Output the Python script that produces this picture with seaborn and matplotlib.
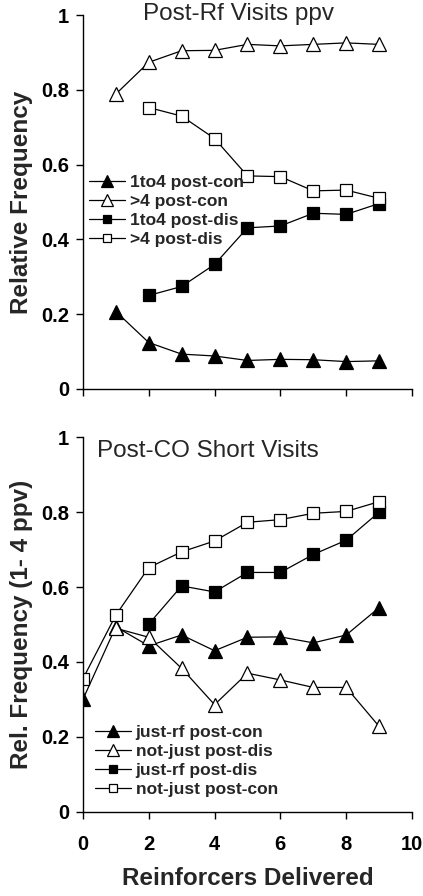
import numpy as np
import pandas as pd
import seaborn as sns
import matplotlib.pyplot as plt
from matplotlib.ticker import FuncFormatter

# top panel: Post-Rf visits
top_labels = ['1to4 post-con', '>4 post-con', '1to4 post-dis', '>4 post-dis']
top_x = [list(range(1, 10)), list(range(1, 10)), list(range(2, 10)), list(range(2, 10))]
top_y = [
    [0.207, 0.124, 0.093, 0.088, 0.076, 0.079, 0.078, 0.073, 0.075],
    [0.789, 0.874, 0.905, 0.906, 0.922, 0.918, 0.922, 0.926, 0.922],
    [0.250, 0.274, 0.333, 0.431, 0.436, 0.470, 0.467, 0.496],
    [0.753, 0.730, 0.670, 0.570, 0.568, 0.530, 0.532, 0.510],
]

# bottom panel: Post-CO short visits
bot_labels = ['just-rf post-con', 'not-just post-dis', 'just-rf post-dis', 'not-just post-con']
bot_x = [list(range(0, 10)), list(range(1, 10)), list(range(2, 10)), list(range(0, 10))]
bot_y = [
    [0.300, 0.494, 0.443, 0.472, 0.430, 0.466, 0.467, 0.451, 0.472, 0.545],
    [0.490, 0.466, 0.383, 0.286, 0.370, 0.352, 0.332, 0.332, 0.228],
    [0.501, 0.603, 0.587, 0.639, 0.639, 0.687, 0.725, 0.800],
    [0.355, 0.525, 0.652, 0.694, 0.723, 0.773, 0.780, 0.797, 0.802, 0.828],
]

markers = ['^', '^', 's', 's']
faces = ['black', 'white', 'black', 'white']
msizes = [10.5, 10.5, 8, 8]

sns.set_style('ticks')
plt.rcParams['font.family'] = ['Liberation Sans', 'DejaVu Sans']

fig = plt.figure(figsize=(4.23, 8.96), dpi=100)
ax1 = fig.add_axes([0.196, 0.566, 0.778, 0.417])
ax2 = fig.add_axes([0.196, 0.094, 0.778, 0.418])


def draw(ax, xs, ys, labels):
    for i in range(4):
        df = pd.DataFrame({'x': xs[i], 'y': ys[i]})
        sns.lineplot(data=df, x='x', y='y', ax=ax, color='black', lw=0.9,
                     marker=markers[i], markersize=msizes[i],
                     markerfacecolor=faces[i], markeredgecolor='black',
                     markeredgewidth=0.9, label=labels[i])
    ax.set_xlim(0, 10)
    ax.set_ylim(0, 1)
    ax.set_xticks(range(0, 11, 2))
    ax.set_yticks(np.arange(0, 1.01, 0.2))
    ax.yaxis.set_major_formatter(FuncFormatter(
        lambda v, p: '0' if abs(v) < 1e-9 else ('1' if abs(v - 1) < 1e-9 else f'{v:.1f}')))
    for s in ['top', 'right']:
        ax.spines[s].set_visible(False)
    for s in ['left', 'bottom']:
        ax.spines[s].set_linewidth(1.0)
        ax.spines[s].set_color('black')
    ax.tick_params(direction='out', length=5, width=1.0, colors='black',
                   labelsize=14.5)
    ax.tick_params(axis='x', pad=12)
    ax.tick_params(axis='y', pad=5)
    for t in ax.get_xticklabels() + ax.get_yticklabels():
        t.set_fontweight('bold')
    ax.set_xlabel('')
    ax.set_ylabel('')


draw(ax1, top_x, top_y, top_labels)
draw(ax2, bot_x, bot_y, bot_labels)

ax1.tick_params(axis='x', labelbottom=False)

leg_kw = dict(frameon=False, loc='upper left', prop={'weight': 'bold', 'size': 12.5},
              handlelength=2.1, handletextpad=0.25, labelspacing=0.22,
              borderaxespad=0, borderpad=0, markerscale=0.8)
ax1.legend(bbox_to_anchor=(0.018, 0.572), **leg_kw)
ax2.legend(bbox_to_anchor=(0.036, 0.232), **leg_kw)

ax1.text(0.474, 0.987, 'Post-Rf Visits ppv', transform=ax1.transAxes,
         ha='center', va='baseline', fontsize=17.5)
ax2.text(0.043, 0.947, 'Post-CO Short Visits', transform=ax2.transAxes,
         ha='left', va='baseline', fontsize=17.5)

ax1.set_ylabel('Relative Frequency', fontsize=17.5, fontweight='bold', labelpad=6)
ax2.set_ylabel('Rel. Frequency (1- 4 ppv)', fontsize=17.5, fontweight='bold', labelpad=6)
ax2.set_xlabel('Reinforcers Delivered', fontsize=17.5, fontweight='bold', labelpad=9)

fig.savefig('out.png', dpi=100)
